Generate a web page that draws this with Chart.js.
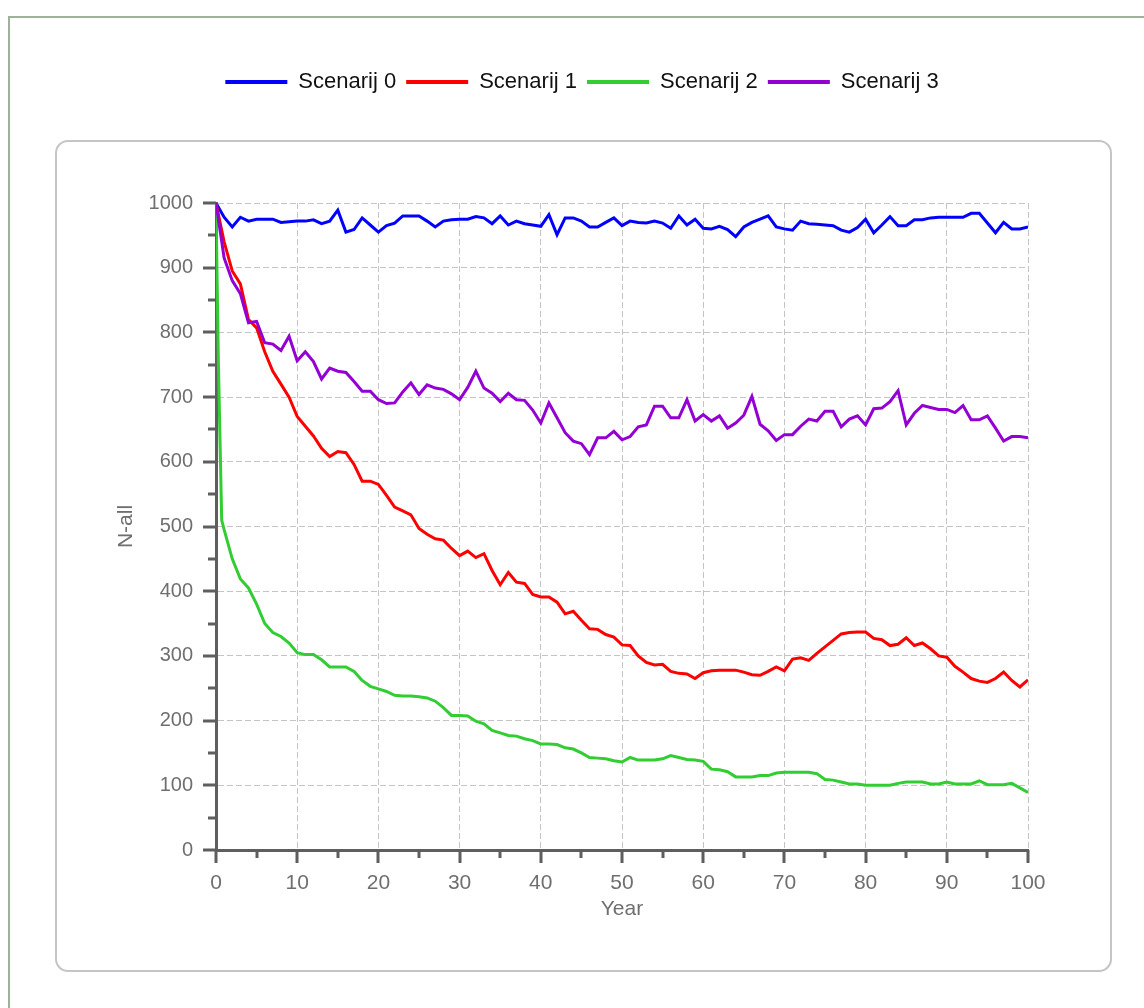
<!DOCTYPE html>
<html>
<head>
<meta charset="utf-8">
<script src="https://cdn.jsdelivr.net/npm/chart.js@4.4.1/dist/chart.umd.min.js"></script>
<style>
  body { margin: 0; background: #fff; width: 1144px; height: 1008px; overflow: hidden; position: relative; }
  #frame { position: absolute; left: 8px; top: 16px; width: 1200px; height: 1100px; border-left: 2px solid #9fb09b; border-top: 2px solid #9fb09b; }
  #panel { position: absolute; left: 55px; top: 140px; width: 1053px; height: 828px; border: 2px solid #c6c3c9; border-radius: 13px; }
  #chart { position: absolute; left: 0; top: 0; }
</style>
</head>
<body>
<div id="frame"></div>
<div id="panel"></div>
<canvas id="chart" width="1144" height="1008"></canvas>
<script>
// years on the x axis
const years = [0,1,2,3,4,5,6,7,8,9,10,11,12,13,14,15,16,17,18,19,20,21,22,23,24,25,26,27,28,29,30,
  31,32,33,34,35,36,37,38,39,40,41,42,43,44,45,46,47,48,49,50,51,52,53,54,55,56,57,58,59,60,
  61,62,63,64,65,66,67,68,69,70,71,72,73,74,75,76,77,78,79,80,81,82,83,84,85,86,87,88,89,90,
  91,92,93,94,95,96,97,98,99,100];

const scen0 = [1000,978,963,978,972,975,975,975,970,971,
  972,972,974,968,972,989,955,959,977,966,
  955,965,969,980,980,980,972,963,972,974,
  975,975,979,977,968,980,966,972,968,966,
  964,982,951,977,977,972,963,963,970,977,
  965,972,970,969,972,969,961,980,966,975,
  961,960,964,959,948,963,970,975,980,963,
  960,958,972,968,967,966,965,958,955,962,
  975,954,966,979,965,965,974,974,977,978,
  978,978,978,984,984,969,954,970,960,960,
  963];

const scen1 = [1000,940,895,875,820,807,770,740,720,700,
  670,655,640,621,608,616,614,596,570,570,
  565,548,530,524,518,497,488,481,479,466,
  455,462,452,458,432,410,429,414,412,395,
  391,391,383,365,369,355,342,341,333,329,
  317,316,300,290,286,287,276,273,272,265,
  274,277,278,278,278,275,271,270,276,283,
  277,295,297,293,304,314,324,334,336,337,
  337,327,325,316,318,328,316,320,311,300,
  298,284,275,265,261,259,265,275,262,252,
  263];

// scenario 2 drops steeply inside the first year
const scen2StartYears = [0.15, 0.3, 0.5, 0.7];
const scen2Start = [870, 750, 630, 510];
const scen2 = [1000,495,450,419,405,380,350,336,330,320,
  305,302,302,294,283,283,283,276,262,253,
  249,245,239,238,238,237,235,230,220,208,
  208,207,199,195,185,181,177,176,172,169,
  164,164,163,158,156,150,143,142,141,138,
  136,143,139,139,139,141,146,143,140,139,
  137,125,124,121,113,113,113,115,115,119,
  120,120,120,120,118,109,108,105,102,102,
  100,100,100,100,103,105,105,105,102,102,
  105,102,102,102,107,101,101,101,103,96,
  89];

const scen3 = [1000,915,880,860,815,817,784,782,772,794,
  756,770,755,728,745,740,738,724,709,709,
  696,690,691,708,722,704,719,714,712,705,
  696,715,740,714,706,693,706,696,695,680,
  660,691,668,645,632,628,611,637,637,647,
  634,639,654,657,686,686,668,668,696,663,
  673,663,671,652,660,672,701,658,648,633,
  642,642,655,666,663,678,678,654,666,671,
  657,682,683,693,710,657,675,687,684,681,
  681,676,687,665,665,671,652,632,639,639,
  637];

const seriesNames = ['Scenarij 0', 'Scenarij 1', 'Scenarij 2', 'Scenarij 3'];
const seriesColors = ['#0000ff', '#ff0000', '#32cd32', '#9400d3'];

const fontFamily = '"Liberation Sans", Arial, sans-serif';
const axisColor = '#5e5e5e';
const labelColor = '#6f6f6f';
const gridColor = '#c4c4c4';

function toPoints(xs, ys) {
  return xs.map((x, i) => ({ x: x, y: ys[i] }));
}

const greenPoints = [{ x: years[0], y: scen2[0] }]
  .concat(toPoints(scen2StartYears, scen2Start))
  .concat(toPoints(years.slice(1), scen2.slice(1)));

const seriesData = [toPoints(years, scen0), toPoints(years, scen1), greenPoints, toPoints(years, scen3)];

const datasets = seriesNames.map((name, i) => ({
  label: name,
  data: seriesData[i],
  borderColor: seriesColors[i],
  backgroundColor: seriesColors[i],
  order: 3 - i
}));

// legend sits high, leave room below it; nudge it right like the original
const legendGap = {
  id: 'legendGap',
  beforeInit(chart) {
    const fitLegend = chart.legend.fit;
    chart.legend.fit = function () {
      fitLegend.call(this);
      this.height = 142;
    };
    const drawLegend = chart.legend.draw;
    chart.legend.draw = function () {
      this.ctx.save();
      this.ctx.translate(18, 0);
      drawLegend.call(this);
      this.ctx.restore();
    };
  }
};

// major and minor tick marks outside the plot
const axisTicks = {
  id: 'axisTicks',
  afterDraw(chart) {
    const { ctx, chartArea, scales } = chart;
    ctx.save();
    ctx.strokeStyle = axisColor;
    ctx.lineWidth = 3;
    ctx.beginPath();
    scales.x.ticks.forEach(t => {
      const px = Math.round(scales.x.getPixelForValue(t.value));
      const len = t.value % 10 === 0 ? 13 : 8;
      ctx.moveTo(px, chartArea.bottom);
      ctx.lineTo(px, chartArea.bottom + len);
    });
    scales.y.ticks.forEach(t => {
      const py = Math.round(scales.y.getPixelForValue(t.value));
      const len = t.value % 100 === 0 ? 13 : 8;
      ctx.moveTo(chartArea.left, py);
      ctx.lineTo(chartArea.left - len, py);
    });
    ctx.stroke();
    ctx.restore();
  }
};

new Chart(document.getElementById('chart'), {
  type: 'line',
  data: { datasets: datasets },
  options: {
    responsive: false,
    animation: false,
    events: [],
    elements: {
      point: { radius: 0 },
      line: { borderWidth: 3, tension: 0 }
    },
    layout: { padding: { left: 100, right: 116, top: 61, bottom: 78 } },
    plugins: {
      tooltip: { enabled: false },
      legend: {
        position: 'top',
        labels: {
          font: { family: fontFamily, size: 22 },
          color: '#111111',
          boxWidth: 62,
          boxHeight: 4,
          padding: 10,
          sort: (a, b) => a.datasetIndex - b.datasetIndex,
          generateLabels: chart => Chart.defaults.plugins.legend.labels.generateLabels(chart)
            .map(l => Object.assign(l, { lineWidth: 0, fillStyle: l.strokeStyle }))
        }
      }
    },
    scales: {
      x: {
        type: 'linear',
        min: 0,
        max: 100,
        ticks: {
          stepSize: 5,
          autoSkip: false,
          maxRotation: 0,
          padding: 21,
          color: labelColor,
          font: { family: fontFamily, size: 21 },
          callback: v => (v % 10 === 0 ? v : '')
        },
        grid: {
          drawTicks: false,
          lineWidth: 1,
          color: c => (c.tick && c.tick.value % 10 === 0 ? gridColor : 'transparent')
        },
        border: { color: axisColor, width: 3, dash: [6, 3] },
        title: {
          display: true,
          text: 'Year',
          color: labelColor,
          font: { family: fontFamily, size: 21 },
          padding: { top: 0, bottom: 8 }
        },
        afterFit: s => { s.height = 80; }
      },
      y: {
        min: 0,
        max: 1000,
        ticks: {
          stepSize: 50,
          autoSkip: false,
          padding: 23,
          color: labelColor,
          font: { family: fontFamily, size: 20 },
          callback: v => (v % 100 === 0 ? v : '')
        },
        grid: {
          drawTicks: false,
          lineWidth: 1,
          color: c => (c.tick && c.tick.value % 100 === 0 ? gridColor : 'transparent')
        },
        border: { color: axisColor, width: 3, dash: [6, 3] },
        title: {
          display: true,
          text: 'N-all',
          color: labelColor,
          font: { family: fontFamily, size: 21 },
          padding: { top: 14, bottom: 0 }
        },
        afterFit: s => { s.width = 116; }
      }
    }
  },
  plugins: [legendGap, axisTicks]
});
</script>
</body>
</html>
